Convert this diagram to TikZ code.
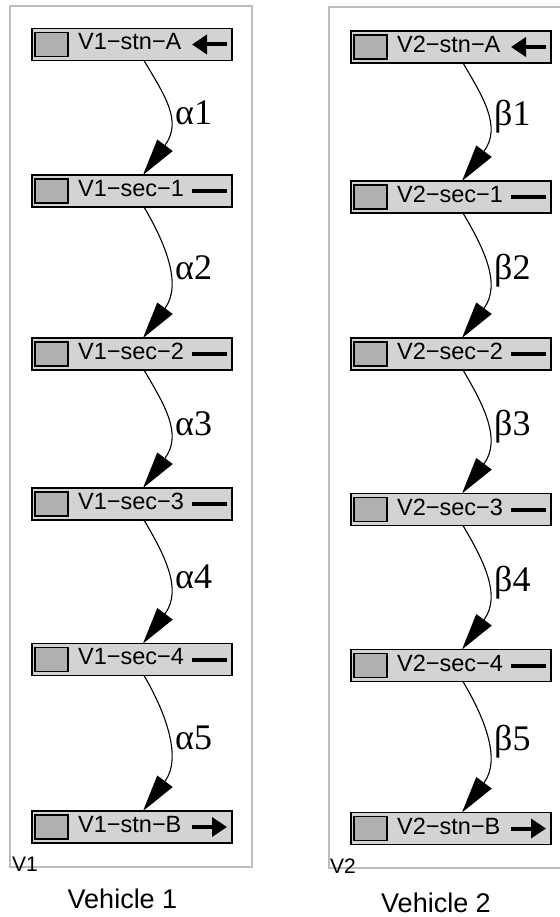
\documentclass[tikz,border=0pt]{standalone}
\usepackage{fontspec}
\setmainfont{Liberation Sans}
\newfontfamily\serifgk{Liberation Serif}
\usetikzlibrary{arrows.meta}
\definecolor{boxfill}{HTML}{D3D3D3}
\definecolor{sqfill}{HTML}{B0B0B0}
\definecolor{clus}{HTML}{BDBDBD}
\tikzset{
  blk/.style={draw=black, fill=boxfill, line width=1.4pt, minimum width=200pt, minimum height=32pt, inner sep=0pt, outer sep=0pt},
  sqbox/.style={draw=black, fill=sqfill, line width=1.1pt, minimum width=33pt, minimum height=24pt, inner sep=0pt},
  ntext/.style={font=\fontsize{23.5}{23.5}\selectfont, inner sep=0pt, anchor=west},
  edgeline/.style={draw=black, line width=1.1pt, -{Triangle[length=37pt,width=19pt]}},
  elbl/.style={font=\serifgk\fontsize{36}{36}\selectfont, inner sep=0pt, anchor=west},
  clusbox/.style={draw=clus, line width=1.8pt},
  symbase/.style={line width=4pt},
  symL/.style={symbase, -{Triangle[length=15pt,width=19pt]}},
  symR/.style={symbase, {Triangle[length=15pt,width=19pt]}-},
  symN/.style={symbase},
  clbl/.style={font=\fontsize{21}{21}\selectfont, inner sep=0pt, anchor=base west},
  vlbl/.style={font=\fontsize{27}{27}\selectfont, inner sep=0pt, anchor=base},
}
\newcommand\mkblock[5]{%
  \node[blk] (#1) at (#2,#3) {};
  \node[sqbox] (#1sq) at ([xshift=19.5pt]#1.west) {};
  \node[ntext] (#1txt) at ([xshift=46pt,yshift=2.5pt]#1.west) {#4};
  \draw[#5] ([xshift=-5pt]#1.east) -- ([xshift=-40pt]#1.east);
}
\newcommand\mkedge[3]{%
  \draw[edgeline] ([xshift=12pt]#1.south) .. controls +(20,34) and +(40,-54) .. ([xshift=11pt]#2.north);
  \path (#1.south) -- (#2.north) node[pos=0.5, elbl, xshift=43pt, yshift=5pt] (#1lbl) {#3};
}
\begin{document}
\begin{tikzpicture}[x=1pt, y=-1pt]
\useasboundingbox (0,0) rectangle (559,917);
\draw[clusbox] (10,6) rectangle (252,867);
\draw[clusbox] (329,7) rectangle (566,868);
% left cluster
\mkblock{la}{132}{44.5}{V1−stn−A}{symL}
\mkblock{lb}{132}{191}{V1−sec−1}{symN}
\mkblock{lc}{132}{354}{V1−sec−2}{symN}
\mkblock{ld}{132}{504}{V1−sec−3}{symN}
\mkblock{le}{132}{659.5}{V1−sec−4}{symN}
\mkblock{lf}{132}{827}{V1−stn−B}{symR}
\mkedge{la}{lb}{α1}
\mkedge{lb}{lc}{α2}
\mkedge{lc}{ld}{α3}
\mkedge{ld}{le}{α4}
\mkedge{le}{lf}{α5}
% right cluster
\mkblock{ra}{451}{47}{V2−stn−A}{symL}
\mkblock{rb}{451}{197}{V2−sec−1}{symN}
\mkblock{rc}{451}{354}{V2−sec−2}{symN}
\mkblock{rd}{451}{509.5}{V2−sec−3}{symN}
\mkblock{re}{451}{665.5}{V2−sec−4}{symN}
\mkblock{rf}{451}{828.5}{V2−stn−B}{symR}
\mkedge{ra}{rb}{β1}
\mkedge{rb}{rc}{β2}
\mkedge{rc}{rd}{β3}
\mkedge{rd}{re}{β4}
\mkedge{re}{rf}{β5}
% cluster labels
\node[clbl] (c1) at (12,871) {V1};
\node[clbl] (c2) at (330,873) {V2};
\node[vlbl] (veh1) at (122.5,908) {Vehicle 1};
\node[vlbl] (veh2) at (436,912) {Vehicle 2};
\end{tikzpicture}
\end{document}
